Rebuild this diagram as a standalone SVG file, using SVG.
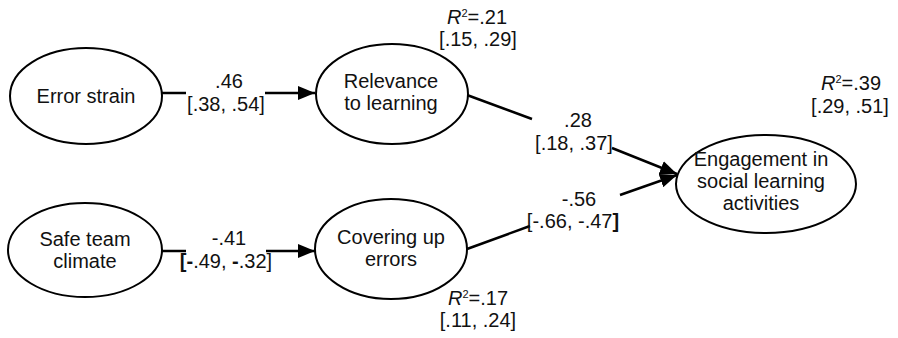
<svg xmlns="http://www.w3.org/2000/svg" width="898" height="338" viewBox="0 0 898 338">
<style>
text{font-family:"Liberation Sans",Arial,sans-serif;font-size:20px;fill:#111;text-anchor:middle}
.n{fill:#fff;stroke:#000;stroke-width:2}
.c{stroke:#000;stroke-width:2.5;fill:none}
.it{font-style:italic}
.b{font-weight:bold}
</style>
<defs>
<marker id="ah" markerUnits="userSpaceOnUse" markerWidth="18" markerHeight="14" refX="17" refY="7" orient="auto">
<path d="M0,0 L17,7 L0,14 z" fill="#000"/>
</marker>
</defs>
<g id="connectors">
<line class="c" x1="162" y1="93" x2="186" y2="93"/>
<line class="c" x1="265" y1="93" x2="315" y2="93" marker-end="url(#ah)"/>
<line class="c" x1="162" y1="251" x2="186" y2="251"/>
<line class="c" x1="266" y1="251" x2="315" y2="251" marker-end="url(#ah)"/>
<line class="c" x1="467" y1="95" x2="532" y2="119"/>
<line class="c" x1="612" y1="148" x2="677" y2="174" marker-end="url(#ah)"/>
<line class="c" x1="467" y1="249" x2="530" y2="226"/>
<line class="c" x1="620" y1="195" x2="677" y2="175" marker-end="url(#ah)"/>
<text x="229" y="88">.46</text>
<text x="226" y="111">[.38, .54]</text>
<text x="229" y="245">-.41</text>
<text x="226" y="268"><tspan class="b">[-</tspan>.49, <tspan class="b">-</tspan>.32]</text>
<text x="578" y="127">.28</text>
<text x="574" y="150">[.18, .37]</text>
<text x="579" y="206">-.56</text>
<text x="573" y="228">[-.66, -.47<tspan class="b">]</tspan></text>
</g>
<g id="error-strain">
<ellipse class="n" cx="86" cy="96" rx="76" ry="48"/>
<text x="86" y="103">Error strain</text>
</g>
<g id="relevance">
<ellipse class="n" cx="392" cy="94" rx="76" ry="50"/>
<text x="391" y="88">Relevance</text>
<text x="391" y="110">to learning</text>
<text x="477" y="24"><tspan class="it">R</tspan><tspan font-size="11" dy="-7">2</tspan><tspan dy="7">=.21</tspan></text>
<text x="478" y="46">[.15, .29]</text>
</g>
<g id="safe-team-climate">
<ellipse class="n" cx="85" cy="250" rx="77" ry="47"/>
<text x="85" y="246">Safe team</text>
<text x="85" y="268">climate</text>
</g>
<g id="covering-up">
<ellipse class="n" cx="391" cy="249" rx="76" ry="50"/>
<text x="391" y="244">Covering up</text>
<text x="391" y="266">errors</text>
<text x="478" y="305"><tspan class="it">R</tspan><tspan font-size="11" dy="-7">2</tspan><tspan dy="7">=.17</tspan></text>
<text x="478" y="327">[.11, .24]</text>
</g>
<g id="engagement">
<ellipse class="n" cx="766" cy="184" rx="90" ry="49"/>
<text x="761" y="166">Engagement in</text>
<text x="761" y="188">social learning</text>
<text x="761" y="210">activities</text>
<text x="851" y="90"><tspan class="it">R</tspan><tspan font-size="11" dy="-7">2</tspan><tspan dy="7">=.39</tspan></text>
<text x="850" y="113">[.29, .51]</text>
</g>
</svg>
